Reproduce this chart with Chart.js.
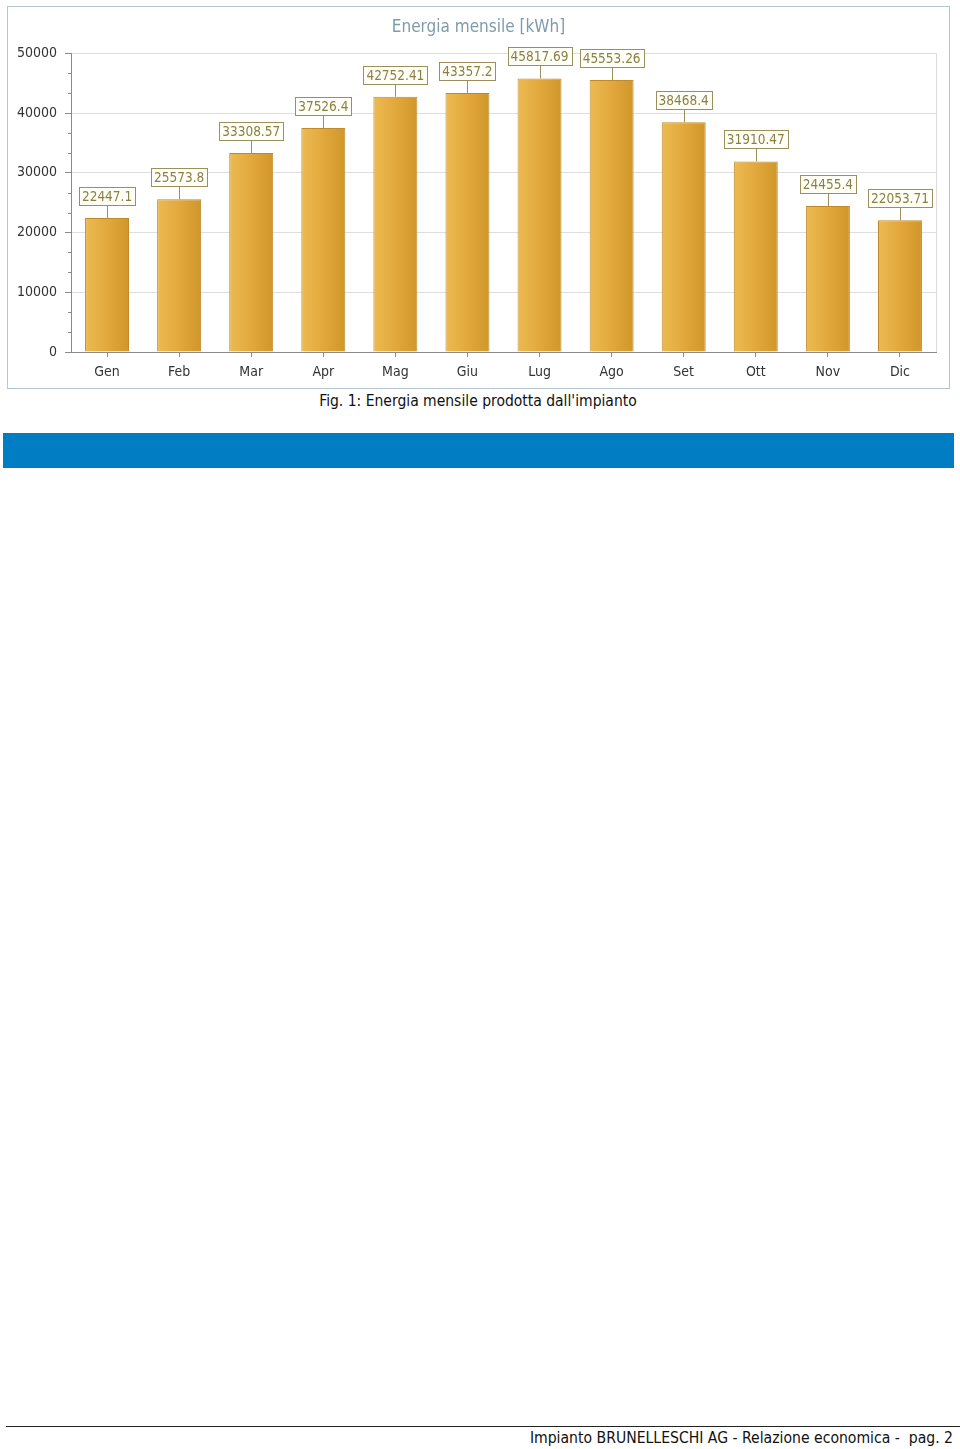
<!DOCTYPE html>
<html>
<head>
<meta charset="utf-8">
<script src="https://cdn.jsdelivr.net/npm/chart.js@4/dist/chart.umd.min.js"></script>
<style>
  body { margin: 0; background: #fff; width: 960px; height: 1449px; position: relative; font-family: "DejaVu Sans Condensed", "DejaVu Sans", sans-serif; }
  #frame { position: absolute; left: 7px; top: 6px; width: 941px; height: 381px; border: 1px solid #b4c6d6; }
  #frame canvas { position: absolute; left: 0; top: 0; }
  #caption { position: absolute; left: 0; width: 956px; top: 392px; text-align: center; font-size: 15.5px; color: #111; }
  #band { position: absolute; left: 3px; top: 433px; width: 951px; height: 35px; background: #007dc3; }
  #footline { position: absolute; left: 6px; top: 1426px; width: 954px; height: 1px; background: #222; }
  #footer { position: absolute; right: 7px; top: 1429px; font-size: 15.6px; color: #111; white-space: pre; }
</style>
</head>
<body>
<div id="frame"><canvas id="barChart" width="941" height="381"></canvas></div>
<div id="caption">Fig. 1: Energia mensile prodotta dall'impianto</div>
<div id="band"></div>
<div id="footline"></div>
<div id="footer">Impianto BRUNELLESCHI AG - Relazione economica -  pag. 2</div>
<script>
const mesi = ["Gen", "Feb", "Mar", "Apr", "Mag", "Giu", "Lug", "Ago", "Set", "Ott", "Nov", "Dic"];
const energia = [22447.1, 25573.8, 33308.57, 37526.4, 42752.41, 43357.2, 45817.69, 45553.26, 38468.4, 31910.47, 24455.4, 22053.71];
const etichette = ["22447.1", "25573.8", "33308.57", "37526.4", "42752.41", "43357.2", "45817.69", "45553.26", "38468.4", "31910.47", "24455.4", "22053.71"];
const yTicks = [0, 10000, 20000, 30000, 40000, 50000];

const FONT = "'DejaVu Sans Condensed', 'DejaVu Sans', sans-serif";

// gradiente orizzontale per ogni barra
const barGradient = (ctx) => {
  const chart = ctx.chart;
  const xs = chart.scales && chart.scales.x;
  if (!xs || !chart.chartArea || ctx.dataIndex === undefined) return "#e0a83c";
  const cx = xs.getPixelForValue(ctx.dataIndex);
  const w = xs.width / mesi.length * 0.61;
  if (!isFinite(cx) || !isFinite(w)) return "#e0a83c";
  const g = chart.ctx.createLinearGradient(cx - w / 2, 0, cx + w / 2, 0);
  g.addColorStop(0, "#ecbb52");
  g.addColorStop(0.5, "#e2a83c");
  g.addColorStop(1, "#cf962a");
  return g;
};

// etichette con riquadro sopra le barre
const boxLabels = {
  id: "boxLabels",
  afterDatasetsDraw(chart) {
    const ctx = chart.ctx;
    const meta = chart.getDatasetMeta(0);
    ctx.save();
    ctx.font = "13.5px " + FONT;
    ctx.textAlign = "center";
    ctx.textBaseline = "middle";
    meta.data.forEach((bar, i) => {
      const txt = etichette[i];
      const w = ctx.measureText(txt).width + 6;
      const h = 18;
      const bottom = bar.y - 13;
      ctx.strokeStyle = "#9c8f5c";
      ctx.lineWidth = 1;
      ctx.beginPath();
      ctx.moveTo(Math.round(bar.x) + 0.5, bar.y);
      ctx.lineTo(Math.round(bar.x) + 0.5, bottom);
      ctx.stroke();
      const left = Math.round(bar.x - w / 2) + 0.5;
      const top = Math.round(bottom - h) + 0.5;
      ctx.fillStyle = "#fffff8";
      ctx.fillRect(left, top, Math.round(w), h);
      ctx.strokeRect(left, top, Math.round(w), h);
      ctx.fillStyle = "#8a8046";
      ctx.fillText(txt, bar.x, top + h / 2 + 1);
    });
    ctx.restore();
  },
};

// tacche minori asse y e bordo destro
const axisExtras = {
  id: "axisExtras",
  afterDraw(chart) {
    const ctx = chart.ctx;
    const y = chart.scales.y;
    const a = chart.chartArea;
    ctx.save();
    ctx.strokeStyle = "#8a8a8a";
    ctx.lineWidth = 1;
    for (let v = 0; v < 50000; v += 10000) {
      for (let k = 1; k < 3; k++) {
        const py = Math.round(y.getPixelForValue(v + k * 10000 / 3)) + 0.5;
        ctx.beginPath();
        ctx.moveTo(a.left - 3, py);
        ctx.lineTo(a.left, py);
        ctx.stroke();
      }
    }
    ctx.strokeStyle = "#dcdcdc";
    ctx.beginPath();
    ctx.moveTo(Math.round(a.right) + 0.5, a.top);
    ctx.lineTo(Math.round(a.right) + 0.5, a.bottom);
    ctx.stroke();
    ctx.restore();
  },
};

new Chart(document.getElementById("barChart"), {
  type: "bar",
  data: {
    labels: mesi,
    datasets: [
      {
        label: "Energia mensile [kWh]",
        data: energia,
        backgroundColor: barGradient,
        borderColor: "#bf8a2c",
        borderWidth: 1,
        barPercentage: 0.61,
        categoryPercentage: 1,
      },
    ],
  },
  options: {
    responsive: false,
    animation: false,
    layout: { padding: 0 },
    plugins: {
      legend: { display: false },
      tooltip: { enabled: false },
      title: {
        display: true,
        text: "Energia mensile [kWh]",
        color: "#7f9bab",
        font: { family: FONT, size: 17, weight: "normal" },
        padding: { top: 10, bottom: 16 },
      },
    },
    scales: {
      x: {
        grid: { display: true, drawOnChartArea: false, offset: false, tickColor: "#8a8a8a", tickLength: 5 },
        border: { color: "#8a8a8a" },
        ticks: { color: "#333", font: { family: FONT, size: 14 }, padding: 7 },
        afterFit: (s) => { s.height = 36; },
      },
      y: {
        min: 0,
        max: 50000,
        afterBuildTicks: (s) => { s.ticks = yTicks.map((v) => ({ value: v })); },
        grid: { color: "#dedede", tickColor: "#8a8a8a", tickLength: 6 },
        border: { color: "#8a8a8a" },
        ticks: {
          color: "#333",
          font: { family: FONT, size: 14 },
          padding: 8,
          callback: (v) => String(v),
        },
        afterFit: (s) => { s.width = 63; },
      },
      // margine a destra dell'area del grafico
      margine: {
        position: "right",
        min: 0,
        max: 50000,
        grid: { display: false },
        border: { display: false },
        ticks: { display: false },
        afterFit: (s) => { s.width = 13; },
      },
    },
  },
  plugins: [boxLabels, axisExtras],
});
</script>
</body>
</html>
